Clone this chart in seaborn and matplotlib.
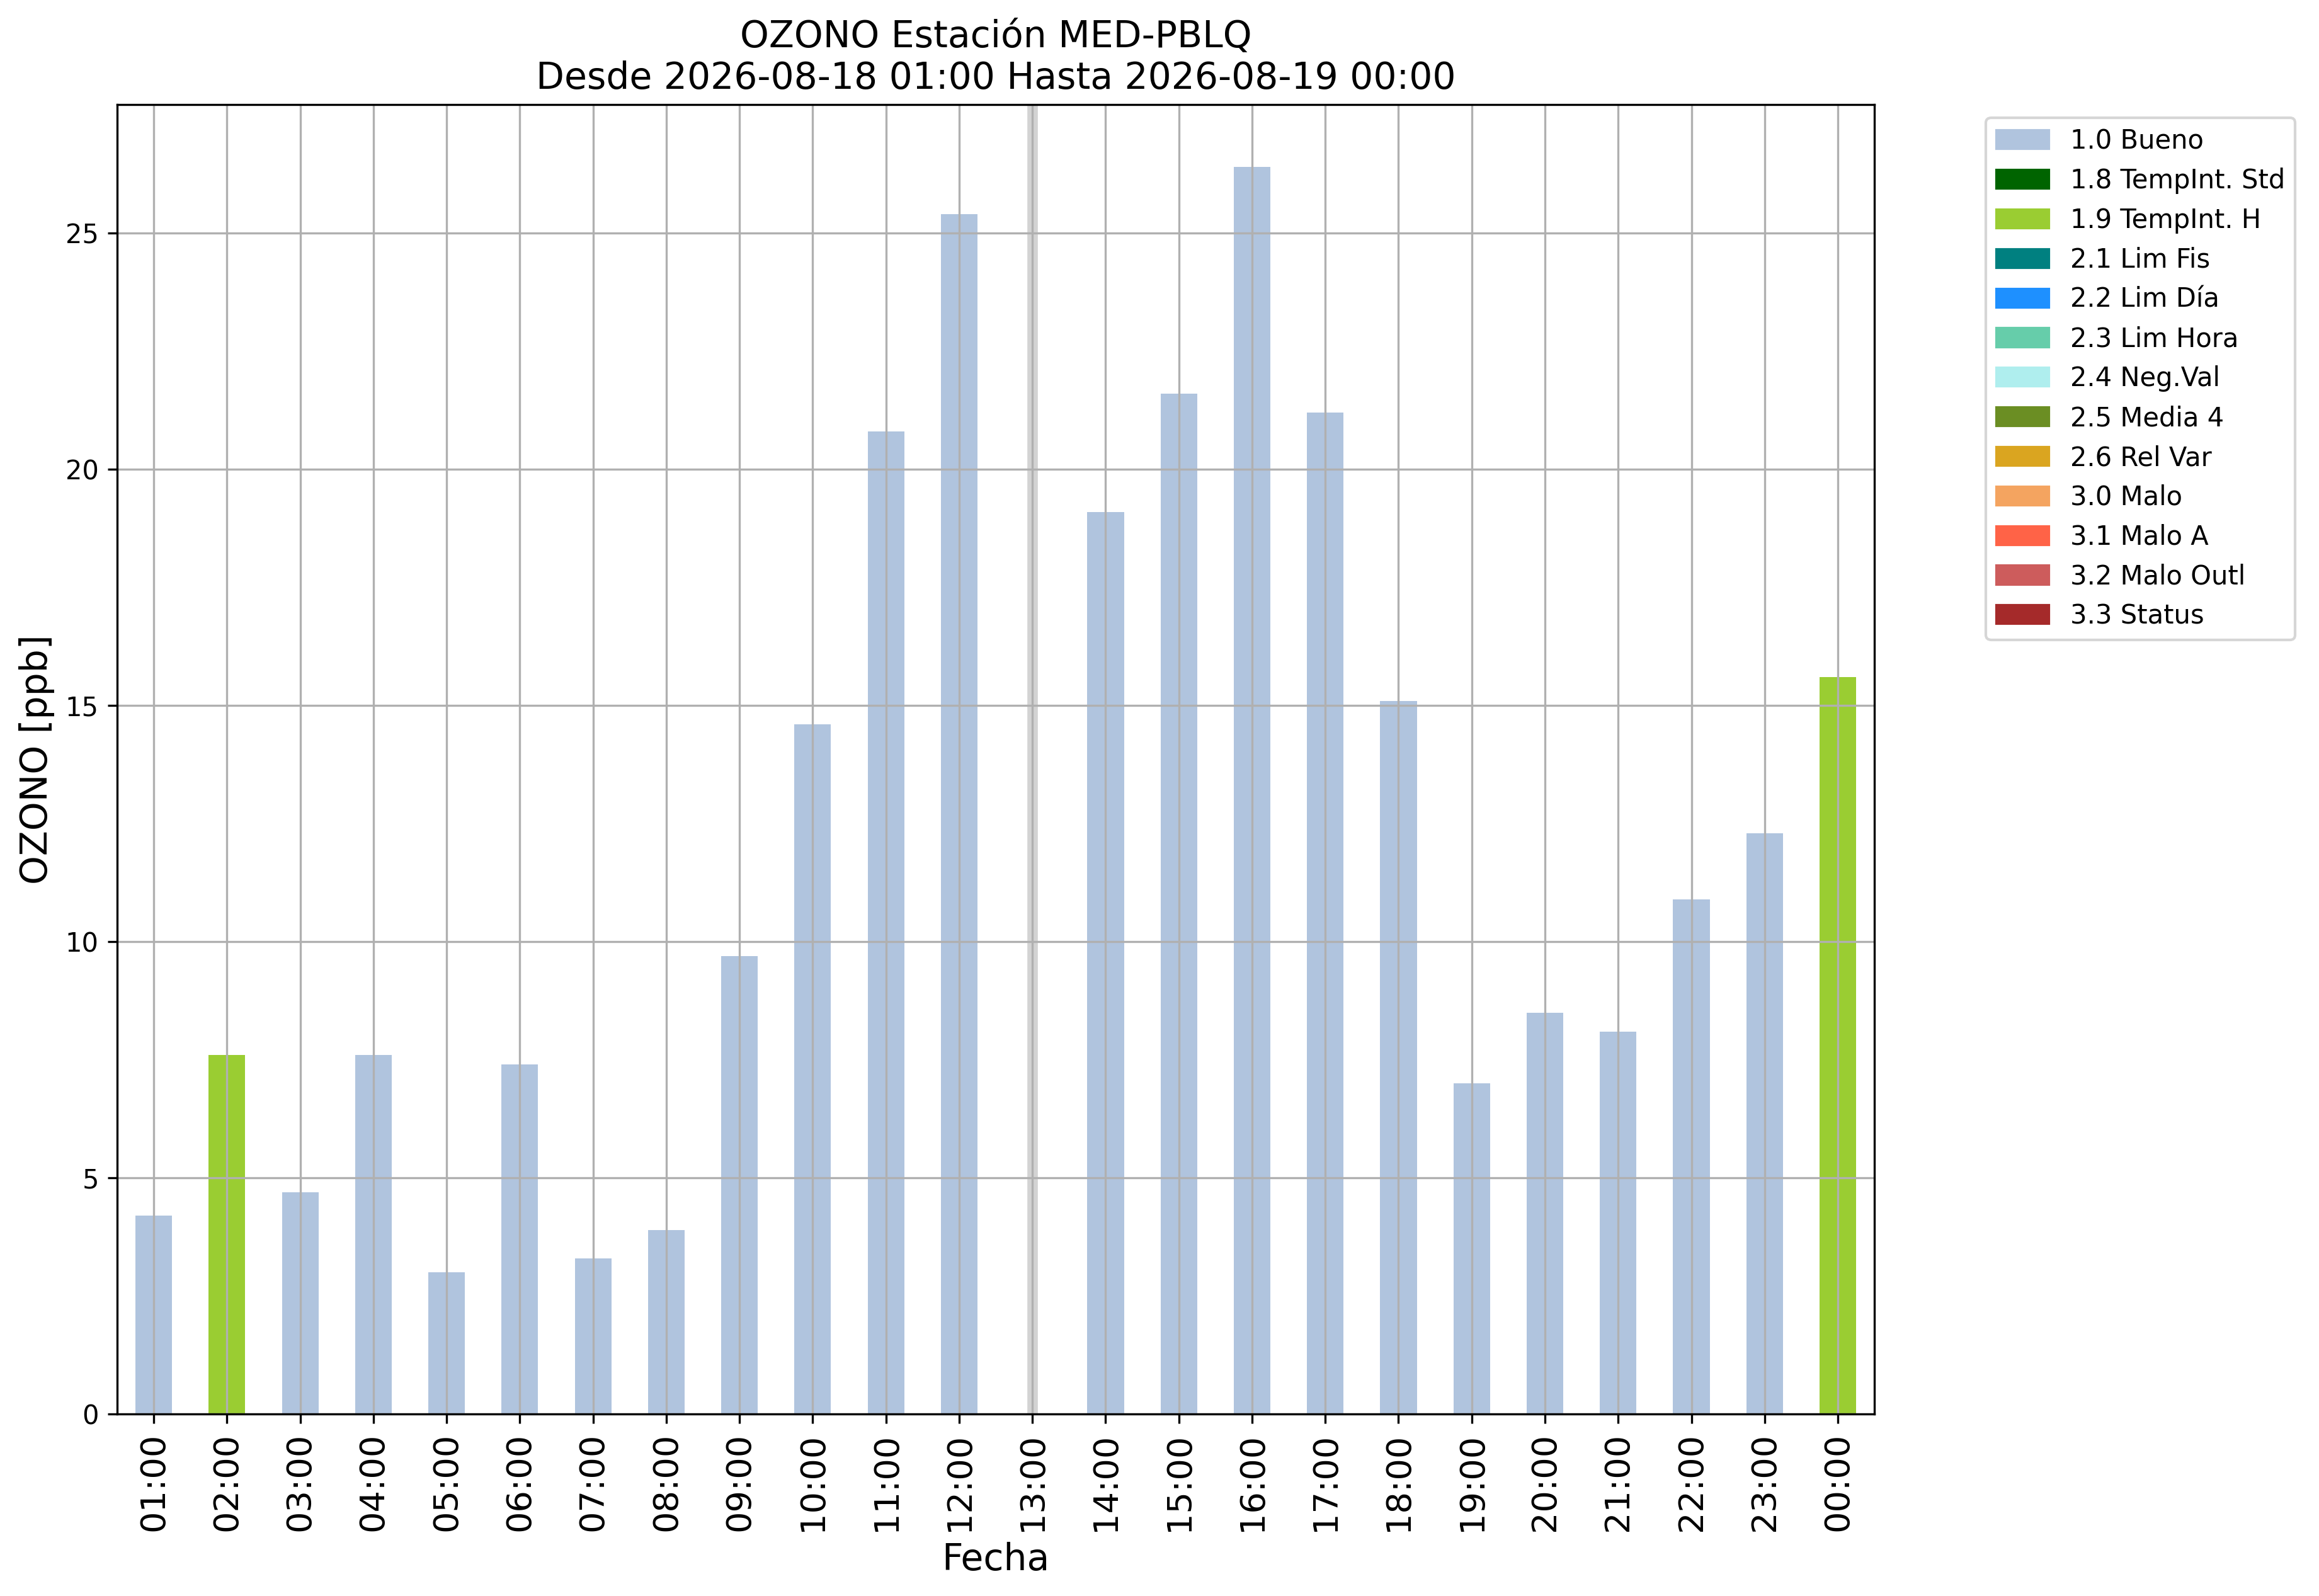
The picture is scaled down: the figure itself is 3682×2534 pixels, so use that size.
import matplotlib
matplotlib.use("Agg")
import matplotlib.pyplot as plt
import numpy as np
import pandas as pd
import seaborn as sns
from matplotlib.patches import Patch

# Datos
HOURS = ["01:00", "02:00", "03:00", "04:00", "05:00", "06:00", "07:00", "08:00",
         "09:00", "10:00", "11:00", "12:00", "13:00", "14:00", "15:00", "16:00",
         "17:00", "18:00", "19:00", "20:00", "21:00", "22:00", "23:00", "00:00"]
OZONE = [4.2, 7.6, 4.7, 7.6, 3.0, 7.4, 3.3, 3.9, 9.7, 14.6, 20.8, 25.4, np.nan,
         19.1, 21.6, 26.4, 21.2, 15.1, 7.0, 8.5, 8.1, 10.9, 12.3, 15.6]
FLAGS = ["1.0 Bueno", "1.9 TempInt. H", "1.0 Bueno", "1.0 Bueno", "1.0 Bueno",
         "1.0 Bueno", "1.0 Bueno", "1.0 Bueno", "1.0 Bueno", "1.0 Bueno",
         "1.0 Bueno", "1.0 Bueno", "1.0 Bueno", "1.0 Bueno", "1.0 Bueno",
         "1.0 Bueno", "1.0 Bueno", "1.0 Bueno", "1.0 Bueno", "1.0 Bueno",
         "1.0 Bueno", "1.0 Bueno", "1.0 Bueno", "1.9 TempInt. H"]

FLAG_LABELS = ["1.0 Bueno", "1.8 TempInt. Std", "1.9 TempInt. H", "2.1 Lim Fis",
               "2.2 Lim Día", "2.3 Lim Hora", "2.4 Neg.Val", "2.5 Media 4",
               "2.6 Rel Var", "3.0 Malo", "3.1 Malo A", "3.2 Malo Outl", "3.3 Status"]
FLAG_COLORS = ["lightsteelblue", "darkgreen", "yellowgreen", "teal", "dodgerblue",
               "mediumaquamarine", "paleturquoise", "olivedrab", "goldenrod",
               "sandybrown", "tomato", "indianred", "brown"]


def plot_ozone() -> None:
    df = pd.DataFrame({"Fecha": HOURS, "OZONO": OZONE, "flag": FLAGS})
    palette = dict(zip(FLAG_LABELS, FLAG_COLORS))

    fig = plt.figure(figsize=(3682 / 300, 2534 / 300), dpi=300)
    ax = fig.add_axes([0.0505, 0.1139, 0.8083 - 0.0505, 0.9345 - 0.1139])

    sns.barplot(data=df, x="Fecha", y="OZONO", hue="flag", order=HOURS,
                hue_order=FLAG_LABELS, palette=palette, dodge=False,
                width=0.5, saturation=1, linewidth=0, legend=False, ax=ax)

    # hora sin dato
    for i, v in enumerate(OZONE):
        if np.isnan(v):
            ax.axvline(i, color="lightgrey", lw=4, zorder=1)

    ax.grid(True)
    ax.set_xlim(-0.5, len(HOURS) - 0.5)
    ax.tick_params(axis="x", labelrotation=90, labelsize=13)
    ax.set_xlabel("Fecha", fontsize=14)
    ax.set_ylabel("OZONO [ppb]", fontsize=14)
    ax.set_title("OZONO Estación MED-PBLQ\nDesde 2026-08-18 01:00 Hasta 2026-08-19 00:00",
                 fontsize=14)

    handles = [Patch(color=c, label=l) for l, c in zip(FLAG_LABELS, FLAG_COLORS)]
    ax.legend(handles=handles, bbox_to_anchor=(1.056, 1), loc="upper left")

    fig.savefig("out.png", dpi=300)


if __name__ == "__main__":
    plot_ozone()
